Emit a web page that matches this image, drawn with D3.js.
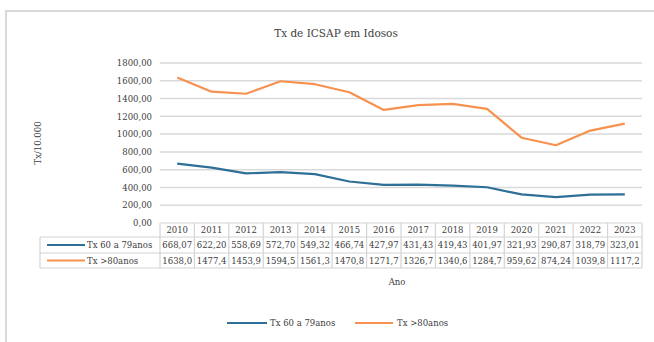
<!DOCTYPE html>
<html>
<head>
<meta charset="utf-8">
<script src="https://cdn.jsdelivr.net/npm/d3@7/dist/d3.min.js"></script>
<style>
  html, body { margin: 0; padding: 0; background: #fff; }
  svg { display: block; }
</style>
</head>
<body>
<svg id="chart" width="654" height="342"></svg>
<script>
// Years on the category axis
const years = ["2010","2011","2012","2013","2014","2015","2016","2017","2018","2019","2020","2021","2022","2023"];

// Rates per 10,000 elderly people
const tx60a79 = [668.07, 622.20, 558.69, 572.70, 549.32, 466.74, 427.97, 431.43, 419.43, 401.97, 321.93, 290.87, 318.79, 323.01];
const tx80mais = [1638.0, 1477.4, 1453.9, 1594.5, 1561.3, 1470.8, 1271.7, 1326.7, 1340.6, 1284.7, 959.62, 874.24, 1039.8, 1117.2];

// Text shown in the data table under the axis
const labels60a79 = ["668,07","622,20","558,69","572,70","549,32","466,74","427,97","431,43","419,43","401,97","321,93","290,87","318,79","323,01"];
const labels80mais = ["1638,0","1477,4","1453,9","1594,5","1561,3","1470,8","1271,7","1326,7","1340,6","1284,7","959,62","874,24","1039,8","1117,2"];

const yTicks = [0, 200, 400, 600, 800, 1000, 1200, 1400, 1600, 1800];

const seriesNames = ["Tx 60 a 79anos", "Tx >80anos"];
const seriesColors = ["#2e6f98", "#f7914f"];

const FONT = "'DejaVu Serif', 'Liberation Serif', serif";
const INK = "#404040";

const svg = d3.select("#chart")
  .attr("font-family", FONT)
  .style("font-family", FONT);

// Outer chart frame
svg.append("rect")
  .attr("x", 6).attr("y", 11)
  .attr("width", 660).attr("height", 340)
  .attr("fill", "#fff")
  .attr("stroke", "#d9d9d9").attr("stroke-width", 2);

const plot = { left: 160, right: 642, top: 63, bottom: 223 };

const x = d3.scaleBand().domain(years).range([plot.left, plot.right]);
const y = d3.scaleLinear().domain([0, 1800]).range([plot.bottom, plot.top]);

function label(sel, size) {
  return sel.style("font-family", FONT).style("font-size", size + "px").attr("fill", INK);
}

// Title
label(svg.append("text"), 10.5)
  .attr("x", 336).attr("y", 37)
  .attr("text-anchor", "middle")
  .text("Tx de ICSAP em Idosos");

// Horizontal gridlines
svg.append("g").selectAll("line")
  .data(yTicks.filter(d => d > 0))
  .join("line")
  .attr("x1", plot.left).attr("x2", plot.right)
  .attr("y1", d => y(d)).attr("y2", d => y(d))
  .attr("stroke", "#d9d9d9").attr("stroke-width", 1.5);

// Y axis labels
const yAxis = d3.axisLeft(y)
  .tickValues(yTicks)
  .tickSize(0)
  .tickPadding(8)
  .tickFormat(d => d3.format(".2f")(d).replace(".", ","));
const yg = svg.append("g")
  .attr("transform", `translate(${plot.left},0)`)
  .call(yAxis)
  .attr("font-family", FONT);
yg.select(".domain").remove();
label(yg.selectAll("text"), 8.5).attr("dy", "0.32em");

// Y axis title
label(svg.append("text"), 8.5)
  .attr("transform", "translate(41,143) rotate(-90)")
  .attr("text-anchor", "middle")
  .text("Tx/10.000");

// Lines
const line = d3.line()
  .x((d, i) => x(years[i]) + x.bandwidth() / 2)
  .y(d => y(d));

[tx60a79, tx80mais].forEach((vals, k) => {
  svg.append("path")
    .datum(vals)
    .attr("fill", "none")
    .attr("stroke", seriesColors[k])
    .attr("stroke-width", 2.2)
    .attr("stroke-linejoin", "round")
    .attr("d", line);
});

// Data table below the plot
const rowTops = [223, 237, 253, 268];
const labelLeft = 40;
const tbl = svg.append("g");
const borderColor = "#d4d4d4";

tbl.append("line")
  .attr("x1", plot.left).attr("x2", plot.right)
  .attr("y1", rowTops[0]).attr("y2", rowTops[0])
  .attr("stroke", borderColor).attr("stroke-width", 1.2);
rowTops.slice(1).forEach(ry => {
  tbl.append("line")
    .attr("x1", labelLeft).attr("x2", plot.right)
    .attr("y1", ry).attr("y2", ry)
    .attr("stroke", borderColor).attr("stroke-width", 1.2);
});
const colEdges = years.map(yr => x(yr)).concat([plot.right]);
tbl.selectAll("line.v")
  .data(colEdges)
  .join("line")
  .attr("class", "v")
  .attr("x1", d => d).attr("x2", d => d)
  .attr("y1", rowTops[0]).attr("y2", rowTops[3])
  .attr("stroke", borderColor).attr("stroke-width", 1.2);
tbl.append("line")
  .attr("x1", labelLeft).attr("x2", labelLeft)
  .attr("y1", rowTops[1]).attr("y2", rowTops[3])
  .attr("stroke", borderColor).attr("stroke-width", 1.2);

// year header
label(tbl.selectAll("text.yr").data(years).join("text"), 8.5)
  .attr("class", "yr")
  .attr("x", d => x(d) + x.bandwidth() / 2)
  .attr("y", (rowTops[0] + rowTops[1]) / 2 + 3)
  .attr("text-anchor", "middle")
  .text(d => d);

// value rows with their series key
[labels60a79, labels80mais].forEach((labs, k) => {
  const cy = (rowTops[k + 1] + rowTops[k + 2]) / 2;
  label(tbl.selectAll(`text.v${k}`).data(labs).join("text"), 8.5)
    .attr("class", `v${k}`)
    .attr("x", (d, i) => x(years[i]) + x.bandwidth() / 2)
    .attr("y", cy + 3)
    .attr("text-anchor", "middle")
    .text(d => d);
  tbl.append("line")
    .attr("x1", 47).attr("x2", 85)
    .attr("y1", cy).attr("y2", cy)
    .attr("stroke", seriesColors[k]).attr("stroke-width", 2.2);
  label(tbl.append("text"), 8.5)
    .attr("x", 87).attr("y", cy + 3)
    .text(seriesNames[k]);
});

// X axis title
label(svg.append("text"), 8.5)
  .attr("x", 397).attr("y", 285)
  .attr("text-anchor", "middle")
  .text("Ano");

// Legend
const legendItems = [
  { x1: 227, x2: 267, tx: 270 },
  { x1: 355, x2: 393, tx: 397 }
];
const lg = svg.append("g");
legendItems.forEach((it, k) => {
  lg.append("line")
    .attr("x1", it.x1).attr("x2", it.x2)
    .attr("y1", 323).attr("y2", 323)
    .attr("stroke", seriesColors[k]).attr("stroke-width", 2.2);
  label(lg.append("text"), 8.5)
    .attr("x", it.tx).attr("y", 326)
    .text(seriesNames[k]);
});
</script>
</body>
</html>
